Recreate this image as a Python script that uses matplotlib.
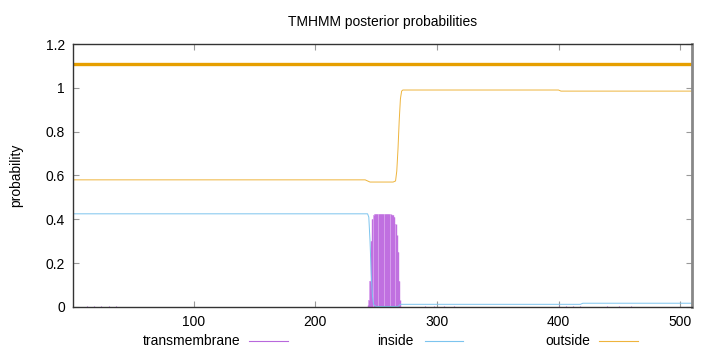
import numpy as np
import matplotlib
matplotlib.use("Agg")
import matplotlib.pyplot as plt
from matplotlib.lines import Line2D
from matplotlib.ticker import FuncFormatter

plt.rcParams['font.family'] = ['Liberation Sans', 'DejaVu Sans']

# Datos (posicion del residuo, probabilidad)
seq_len = 510

outside_pos = [1, 241, 245, 264, 266, 267, 268, 269, 270, 271, 272, 400, 402, 510]
outside_val = [0.58, 0.58, 0.57, 0.57, 0.575, 0.62, 0.72, 0.85, 0.95, 0.985, 0.99, 0.99, 0.985, 0.985]

inside_pos = [1, 243, 244, 245, 246, 247, 248, 250, 268, 270, 418, 420, 510]
inside_val = [0.425, 0.425, 0.41, 0.3, 0.15, 0.05, 0.01, 0.002, 0.002, 0.012, 0.012, 0.017, 0.017]

tm_pos = [243, 244, 245, 246, 247, 248, 249, 250, 251, 252, 253, 254, 255, 256,
          257, 258, 259, 260, 261, 262, 263, 264, 265, 266, 267, 268, 269, 270]
tm_val = [0.01, 0.03, 0.12, 0.30, 0.40, 0.42, 0.425, 0.425, 0.425, 0.425, 0.425,
          0.425, 0.425, 0.425, 0.425, 0.425, 0.425, 0.425, 0.425, 0.425, 0.42,
          0.42, 0.41, 0.38, 0.33, 0.25, 0.12, 0.03]

# valores pequenos cerca de cero
tm_bg_pos = [12, 18, 24, 30, 36, 290, 298, 306, 314, 400, 406, 412, 418, 440, 450, 460]
tm_bg_val = [0.004, 0.004, 0.004, 0.004, 0.004, 0.003, 0.003, 0.003, 0.003,
             0.004, 0.004, 0.004, 0.004, 0.003, 0.003, 0.003]

# topologia predicha (linea superior)
topo_start = [1]
topo_end = [510]
topo_level = 1.11

c_tm = '#b868dc'
c_in = '#7cc4ee'
c_out = '#eeb43c'

fig = plt.figure(figsize=(7.2, 3.52), dpi=100)
ax = fig.add_axes([0.1018, 0.128, 0.8597, 0.747])

# transmembrane (impulsos)
ax.fill_between(tm_pos, 0, tm_val, step='mid', color='#e2b8f2', lw=0)
ax.vlines(tm_pos, 0, tm_val, color='#c070e0', lw=1.0)
ax.vlines(tm_bg_pos, 0, tm_bg_val, color=c_tm, lw=0.8)

ax.plot(inside_pos, inside_val, color=c_in, lw=0.7)
ax.plot(outside_pos, outside_val, color=c_out, lw=0.7)

for s, e in zip(topo_start, topo_end):
    ax.plot([s, e], [topo_level, topo_level], color='#e69f00', lw=2.4, solid_capstyle='butt')

ax.set_xlim(1, seq_len)
ax.set_ylim(0, 1.2)
ax.set_xticks([100, 200, 300, 400, 500])
ax.set_yticks([0, 0.2, 0.4, 0.6, 0.8, 1.0, 1.2])
ax.yaxis.set_major_formatter(FuncFormatter(lambda v, p: '%g' % round(v, 2)))
ax.tick_params(direction='in', length=4, width=0.8, color='#999999',
               labelsize=10, top=True, right=True, pad=6)
for s in ['top', 'left', 'bottom']:
    ax.spines[s].set_color('#333333')
    ax.spines[s].set_linewidth(1.0)
ax.spines['right'].set_color('#888888')
ax.spines['right'].set_linewidth(2.0)

ax.set_ylabel('probability', fontsize=10, labelpad=16)
ax.set_title('TMHMM posterior probabilities', fontsize=10, pad=13)

# leyenda estilo gnuplot
W, H = 720.0, 352.0
ly = 1 - 341 / H
for name, tx, x0, x1, col in [('transmembrane', 240, 249, 288, c_tm),
                              ('inside', 414, 425, 463, c_in),
                              ('outside', 590, 599, 638, c_out)]:
    fig.text(tx / W, ly, name, ha='right', va='center', fontsize=10)
    fig.add_artist(Line2D([x0 / W, x1 / W], [ly, ly], color=col, lw=0.8,
                          transform=fig.transFigure))

fig.savefig('out.png', dpi=100)
